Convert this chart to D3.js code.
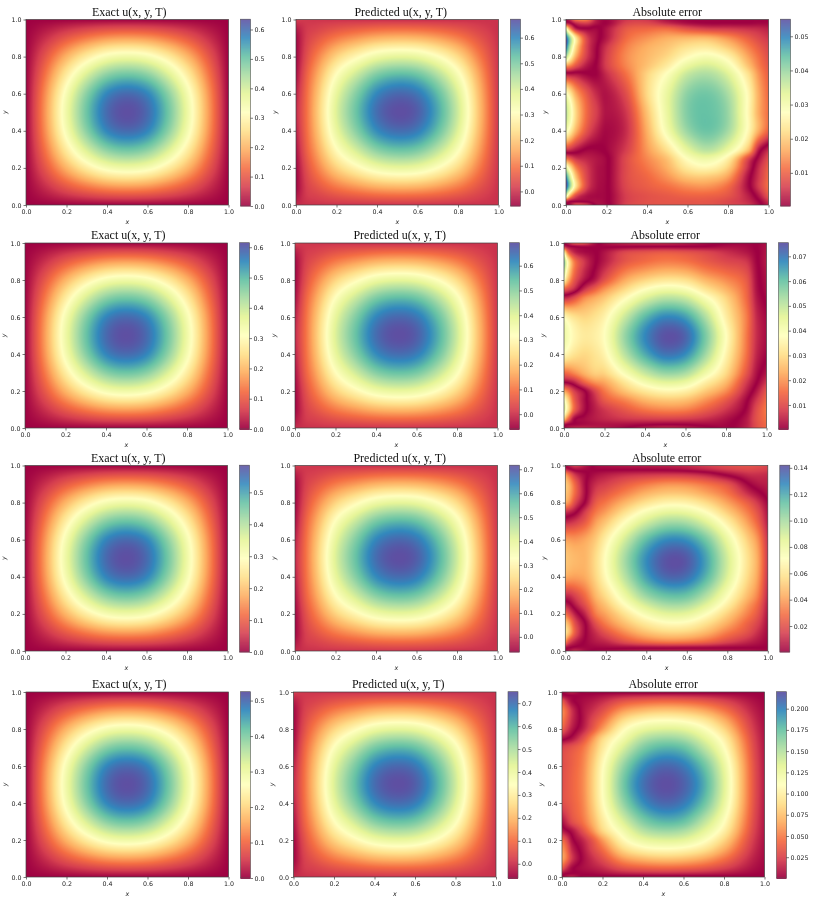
<!DOCTYPE html>
<html><head><meta charset="utf-8">
<script src="https://cdn.jsdelivr.net/npm/d3@7"></script>
<style>html,body{margin:0;padding:0;background:#fff}svg{display:block;filter:blur(0.3px)}</style></head>
<body><svg id="fig" width="819" height="905"></svg>
<script>
const titles = ["Exact u(x, y, T)", "Predicted u(x, y, T)", "Absolute error"];
const spectralColors = ["#9e0142","#d53e4f","#f46d43","#fdae61","#fee08b","#ffffbf","#e6f598","#abdda4","#66c2a5","#3288bd","#5e4fa2"];
const axisTicks = [0,0.2,0.4,0.6,0.8,1.0];
// colour limits per row
const exactLimits = [[0,0.635],[0,0.615],[0,0.585],[0,0.525]];
const predLimits = [[-0.057,0.672],[-0.06,0.693],[-0.063,0.717],[-0.062,0.75]];
const errorLimits = [[0.0003,0.055],[0.0003,0.0755],[0.0003,0.142],[0.0005,0.22]];
const exactTicks = [[0,.1,.2,.3,.4,.5,.6],[0,.1,.2,.3,.4,.5,.6],[0,.1,.2,.3,.4,.5],[0,.1,.2,.3,.4,.5]];
const predTicks = [[0,.1,.2,.3,.4,.5,.6],[0,.1,.2,.3,.4,.5,.6],[0,.1,.2,.3,.4,.5,.6,.7],[0,.1,.2,.3,.4,.5,.6,.7]];
const errorTicks = [[.01,.02,.03,.04,.05],[.01,.02,.03,.04,.05,.06,.07],[.02,.04,.06,.08,.10,.12,.14],[.025,.05,.075,.1,.125,.15,.175,.2]];
const errorDecimals = [2,2,2,3];
// layout
const rowTop = [19.5,243,465.5,692];
const rowBottom = [205,428,651,877];
const colLeft = [[26,296,566],[25,295,564],[25,295,565.3],[26,293.5,562]];
const titleShift = [2,3.5,0];
const axWidth = 202.5, cbGap = 12, cbWidth = 10;

// exact field: share of the row's peak, y from 1 down to 0
const exactX = [0,.1,.2,.3,.4,.5,.6,.7,.8,.9,1];
const exactShape = [
[0,0,0,0,0,0,0,0,0,0,0],
[0,78,157,221,266,280,266,221,157,78,0],
[0,157,314,442,532,560,532,442,314,157,0],
[0,221,442,624,750,790,750,624,442,221,0],
[0,266,532,750,903,950,903,750,532,266,0],
[0,280,560,790,950,1000,950,790,560,280,0],
[0,266,532,750,903,950,903,750,532,266,0],
[0,221,442,624,750,790,750,624,442,221,0],
[0,157,314,442,532,560,532,442,314,157,0],
[0,78,157,221,266,280,266,221,157,78,0],
[0,0,0,0,0,0,0,0,0,0,0]];
// predicted field: position between the panel's limits, y from 1 down to 0
const predX = [0,.05,.1,.2,.3,.4,.5,.6,.7,.8,.9,.95,1];
const predY = [1,.95,.9,.8,.7,.6,.5,.4,.3,.2,.1,.05,0];
const predShape = [
[100,90,85,80,75,72,70,70,72,75,78,80,82],
[40,92,110,146,170,189,196,192,176,149,112,94,77],
[10,100,146,221,271,311,325,318,283,228,151,114,78],
[5,130,221,376,480,563,593,578,506,392,231,154,81],
[20,168,283,505,653,771,815,793,690,527,298,187,83],
[50,190,322,585,761,902,954,927,805,612,339,208,85],
[65,196,335,612,797,945,1000,972,843,640,353,215,85],
[50,189,319,580,754,893,945,918,797,606,336,207,84],
[25,168,278,494,638,754,797,775,674,516,292,184,83],
[5,130,218,371,473,554,584,569,498,386,228,152,81],
[5,100,146,221,271,311,325,318,283,228,151,114,78],
[30,92,110,146,170,189,196,192,176,149,112,94,77],
[70,78,80,80,80,80,82,80,78,76,78,78,80]];
// signed error in 1e-4 (the panel shows its magnitude)
const errX = [0,.02,.05,.1,.15,.2,.3,.4,.5,.6,.7,.8,.9,.95,1];
const errY = [1,.98,.95,.9,.85,.8,.75,.7,.6,.5,.4,.3,.25,.2,.15,.1,.05,.02,0];
const errorRow1 = [
[5,40,120,130,30,8,50,50,15,3,3,3,3,3,3],
[-30,-10,40,60,20,5,65,70,40,15,5,5,5,8,8],
[-300,-150,-30,-5,-8,20,90,105,110,80,60,55,45,40,30],
[-540,-400,-230,-70,-15,25,110,145,170,180,180,145,95,70,50],
[-520,-370,-210,-70,-6,50,130,170,195,230,240,200,130,95,65],
[-380,-280,-160,-60,-3,60,140,180,215,270,295,255,160,115,75],
[-150,-130,-80,-25,5,60,135,190,245,320,345,300,190,130,85],
[40,35,30,10,5,40,115,210,285,365,385,340,230,150,95],
[290,240,160,90,40,20,80,215,320,410,430,385,265,170,105],
[370,310,210,110,60,20,55,190,320,420,440,400,265,170,110],
[300,250,170,85,35,10,45,170,300,400,435,390,265,170,95],
[60,50,25,-3,-5,6,60,150,230,330,375,320,190,30,-40],
[-120,-90,-50,-35,-22,-6,75,135,190,280,310,250,70,-15,-80],
[-330,-240,-130,-60,-22,-6,75,120,170,240,260,205,40,-40,-100],
[-500,-350,-190,-70,-22,-6,75,105,145,190,195,155,15,-50,-110],
[-550,-400,-220,-70,-20,-5,70,95,115,140,145,110,10,-55,-115],
[-330,-180,-70,-20,-10,-5,60,80,90,100,100,85,30,-20,-90],
[-40,-10,0,-3,-15,-5,60,80,85,85,85,70,40,5,-50],
[5,20,90,70,-10,-8,65,80,85,85,85,70,50,15,-30]];
const errorRow2 = [
[5,40,120,120,30,-20,-50,-60,-60,-40,-15,0,5,0,-20],
[-60,-20,0,10,5,-3,-3,0,2,2,5,20,15,-2,-25],
[-350,-150,-50,-15,-5,25,90,110,120,110,90,60,30,3,-30],
[-570,-350,-170,-70,-10,35,115,150,170,160,125,95,70,8,-35],
[-500,-320,-160,-55,3,65,165,210,235,225,175,140,100,15,-30],
[-370,-240,-120,-25,30,110,225,288,320,308,242,190,125,20,-25],
[-130,-100,-50,60,130,198,295,378,420,400,315,240,140,25,-20],
[60,70,110,190,230,270,370,465,517,495,398,290,150,35,-10],
[370,340,310,290,310,350,490,615,680,650,520,340,175,55,10],
[430,400,360,330,340,380,550,680,750,725,580,380,170,60,15],
[370,345,315,295,315,355,510,635,705,675,540,355,160,50,5],
[150,160,190,240,280,290,400,500,558,535,425,300,120,25,-30],
[10,20,50,140,200,225,325,415,460,440,345,250,80,5,-70],
[-220,-170,-80,-5,85,165,260,325,360,345,270,190,45,-30,-120],
[-400,-290,-130,-20,50,120,180,240,265,255,195,120,10,-70,-150],
[-450,-320,-140,-20,35,70,120,165,185,178,130,70,-8,-100,-170],
[-280,-150,-15,15,35,50,70,80,85,80,60,25,-30,-110,-160],
[-30,-5,5,15,22,25,22,10,2,5,15,10,-35,-105,-150],
[5,30,50,50,40,30,5,-35,-50,-40,-15,5,-40,-105,-150]];
const errorRow3 = [
[20,80,150,60,-20,-40,-60,-70,-80,-100,-150,-190,-210,-200,-170],
[-100,-30,40,20,-5,-8,-12,-15,-25,-50,-95,-150,-180,-170,-150],
[-400,-280,-120,-15,40,70,110,130,140,130,80,-15,-100,-110,-100],
[-520,-430,-250,-15,105,148,240,315,365,355,295,205,10,-50,-70],
[-500,-430,-260,-20,160,225,340,445,500,490,410,300,110,30,-40],
[-430,-350,-170,20,230,310,460,585,660,650,555,405,240,130,10],
[-120,-90,-20,150,305,395,585,745,830,815,700,515,320,200,40],
[70,90,130,230,385,490,710,885,990,975,840,630,390,250,60],
[400,390,380,420,510,650,915,1145,1270,1255,1090,815,525,370,110],
[500,480,460,455,565,720,1020,1265,1405,1390,1200,900,585,420,125],
[430,410,400,430,545,695,975,1220,1355,1335,1155,870,560,400,110],
[100,110,170,290,455,575,825,1035,1135,1125,970,730,470,330,80],
[-80,-30,70,210,385,495,720,900,1000,990,850,640,395,270,60],
[-300,-200,-60,100,315,410,600,760,850,840,715,530,330,220,45],
[-520,-400,-180,5,200,325,490,620,695,685,580,430,255,165,30],
[-600,-460,-220,-5,110,210,365,480,540,530,450,315,200,110,20],
[-350,-180,-70,10,60,90,200,280,320,310,260,170,90,50,10],
[-40,-10,15,15,15,20,25,30,35,30,25,15,8,3,0],
[10,50,110,30,-15,-30,-50,-70,-80,-80,-70,-60,-50,-35,-25]];
const errorRow4 = [
[5,60,120,-10,-30,-35,-50,-70,-80,-70,-60,-40,-15,-5,-2],
[-60,-20,0,15,30,60,120,146,160,150,130,92,45,22,6],
[-380,-200,-30,40,90,160,323,391,418,405,352,255,122,61,17],
[-550,-420,-170,50,170,300,595,721,770,746,648,469,224,112,32],
[-520,-380,-160,50,260,440,850,1030,1080,1050,925,670,320,160,45],
[-400,-260,-90,100,340,600,1050,1270,1340,1310,1140,844,403,202,57],
[-70,-20,60,280,560,844,1200,1490,1590,1540,1320,1000,486,243,68],
[246,279,328,450,680,944,1350,1670,1800,1750,1480,1110,544,272,77],
[288,326,384,514,776,1077,1600,1950,2100,2030,1750,1280,621,310,87],
[300,340,400,530,800,1110,1700,2060,2200,2130,1850,1340,640,320,90],
[288,326,384,514,776,1077,1600,1950,2100,2030,1750,1280,621,310,87],
[50,150,300,450,680,944,1350,1670,1800,1750,1480,1110,544,272,77],
[-100,-30,70,300,560,844,1200,1490,1590,1540,1320,1000,486,243,68],
[-450,-300,-40,130,340,600,1050,1270,1340,1310,1140,844,403,202,57],
[-600,-450,-140,60,260,440,850,1030,1080,1050,925,670,320,160,45],
[-650,-500,-200,25,170,300,595,721,770,746,648,469,224,112,32],
[-400,-210,-30,50,100,160,323,391,418,405,352,255,122,61,17],
[-60,-15,5,15,30,60,120,146,160,150,130,92,45,22,6],
[5,70,130,-15,-35,-45,-60,-80,-90,-85,-70,-50,-30,-15,-5]];
const errorGrids = [errorRow1,errorRow2,errorRow3,errorRow4];

const svg = d3.select("#fig");
const stopT = d3.range(spectralColors.length).map(i=>i/(spectralColors.length-1));
const spectral = d3.scaleLinear().domain(stopT).range(spectralColors);
const lut = d3.range(1024).map(i=>d3.rgb(spectral(i/1023)));

// cubic Hermite through unevenly spaced nodes
function hermite(xs, vs, t){
  const n=xs.length; let i=d3.bisectRight(xs,t)-1; i=Math.max(0,Math.min(n-2,i));
  const h=xs[i+1]-xs[i], u=(t-xs[i])/h;
  const d=(a,b)=>(vs[b]-vs[a])/(xs[b]-xs[a]);
  const m0=i>0?d(i-1,i+1):d(i,i+1), m1=i<n-2?d(i,i+2):d(i,i+1);
  const u2=u*u,u3=u2*u;
  return (2*u3-3*u2+1)*vs[i]+(u3-2*u2+u)*h*m0+(-2*u3+3*u2)*vs[i+1]+(u3-u2)*h*m1;
}
function rasterise(xs, ysDown, grid, x, y, W, H, toValue, color){
  const ys=[...ysDown].reverse(), rows=[...grid].reverse();
  const x0=x.range()[0], y1=y.range()[1];
  const cv=document.createElement("canvas"); cv.width=W; cv.height=H;
  const ctx=cv.getContext("2d"), img=ctx.createImageData(W,H);
  const tx=d3.range(W).map(i=>x.invert(x0+(i+.5)*(x.range()[1]-x0)/W));
  const tmp=rows.map(r=>tx.map(t=>hermite(xs,r,t)));
  for(let j=0;j<H;j++){
    const ty=y.invert(y1+(j+.5)*(y.range()[0]-y1)/H);
    for(let i=0;i<W;i++){
      const col=tmp.map(r=>r[i]);
      const v=toValue(hermite(ys,col,ty));
      const c=lut[Math.max(0,Math.min(1023,Math.round(color(v)*1023)))];
      const k=(j*W+i)*4; img.data[k]=c.r;img.data[k+1]=c.g;img.data[k+2]=c.b;img.data[k+3]=255;
    }
  }
  ctx.putImageData(img,0,0);
  return cv.toDataURL();
}
function styleAxis(g){
  g.select(".domain").remove();
  g.selectAll(".tick line").attr("stroke","#222").attr("stroke-width",0.6);
  g.selectAll(".tick text").attr("fill","#222").attr("font-family","DejaVu Sans").attr("font-size",6.3);
}
function panel(r,c){
  const left=colLeft[r][c], top=rowTop[r], bottom=rowBottom[r];
  const x=d3.scaleLinear([0,1],[left,left+axWidth]);
  const y=d3.scaleLinear([0,1],[bottom,top]);
  const lim=[exactLimits,predLimits,errorLimits][c][r];
  const norm=d3.scaleLinear(lim,[0,1]);
  const W=Math.round(axWidth), H=Math.round(bottom-top);
  let href;
  if(c===0) href=rasterise(exactX,[...exactX].reverse(),exactShape,x,y,W,H,v=>v/1000*lim[1],norm);
  if(c===1) href=rasterise(predX,predY,predShape,x,y,W,H,v=>lim[0]+(lim[1]-lim[0])*v/1000,norm);
  if(c===2) href=rasterise(errX,errY,errorGrids[r],x,y,W,H,v=>Math.abs(v)/1e4,norm);
  svg.append("image").attr("x",left).attr("y",top).attr("width",axWidth).attr("height",bottom-top)
    .attr("preserveAspectRatio","none").attr("href",href);
  svg.append("rect").attr("x",left).attr("y",top).attr("width",axWidth).attr("height",bottom-top)
    .attr("fill","none").attr("stroke","#444").attr("stroke-width",0.7);
  svg.append("g").attr("transform",`translate(0,${bottom})`)
    .call(d3.axisBottom(x).tickValues(axisTicks).tickFormat(d3.format(".1f")).tickSize(2.5).tickPadding(2)).call(styleAxis);
  svg.append("g").attr("transform",`translate(${left},0)`)
    .call(d3.axisLeft(y).tickValues(axisTicks).tickFormat(d3.format(".1f")).tickSize(2.5).tickPadding(2)).call(styleAxis);
  svg.append("text").attr("x",left+axWidth/2+titleShift[c]).attr("y",top-4).attr("text-anchor","middle")
    .attr("font-family","Liberation Serif").attr("font-size",12).attr("fill","#111").text(titles[c]);
  svg.append("text").attr("x",left+axWidth/2).attr("y",bottom+19).attr("text-anchor","middle")
    .attr("font-family","DejaVu Sans").attr("font-style","italic").attr("font-size",6.3).attr("fill","#222").text("x");
  svg.append("text").attr("transform",`translate(${left-19.5},${(top+bottom)/2}) rotate(-90)`).attr("text-anchor","middle")
    .attr("font-family","DejaVu Sans").attr("font-style","italic").attr("font-size",6.3).attr("fill","#222").text("y");
  // colour bar
  const cbL=left+axWidth+cbGap, cbT=top-0.3, cbB=bottom+1;
  const cy=d3.scaleLinear(lim,[cbB,cbT]);
  const strips=d3.range(Math.ceil(cbB-cbT));
  svg.append("g").selectAll("rect").data(strips).join("rect")
    .attr("x",cbL).attr("width",cbWidth).attr("y",d=>cbT+d).attr("height",1.2)
    .attr("fill",d=>spectral(norm(cy.invert(cbT+d+.5))));
  svg.append("rect").attr("x",cbL).attr("y",cbT).attr("width",cbWidth).attr("height",cbB-cbT)
    .attr("fill","none").attr("stroke","#555").attr("stroke-width",0.6);
  const tv=[exactTicks,predTicks,errorTicks][c][r];
  const dec=c===2?errorDecimals[r]:1;
  svg.append("g").attr("transform",`translate(${cbL+cbWidth},0)`)
    .call(d3.axisRight(cy).tickValues(tv).tickFormat(d3.format(`.${dec}f`)).tickSize(2.5).tickPadding(1.5)).call(styleAxis);
}
for(let r=0;r<4;r++) for(let c=0;c<3;c++) panel(r,c);
</script></body></html>
